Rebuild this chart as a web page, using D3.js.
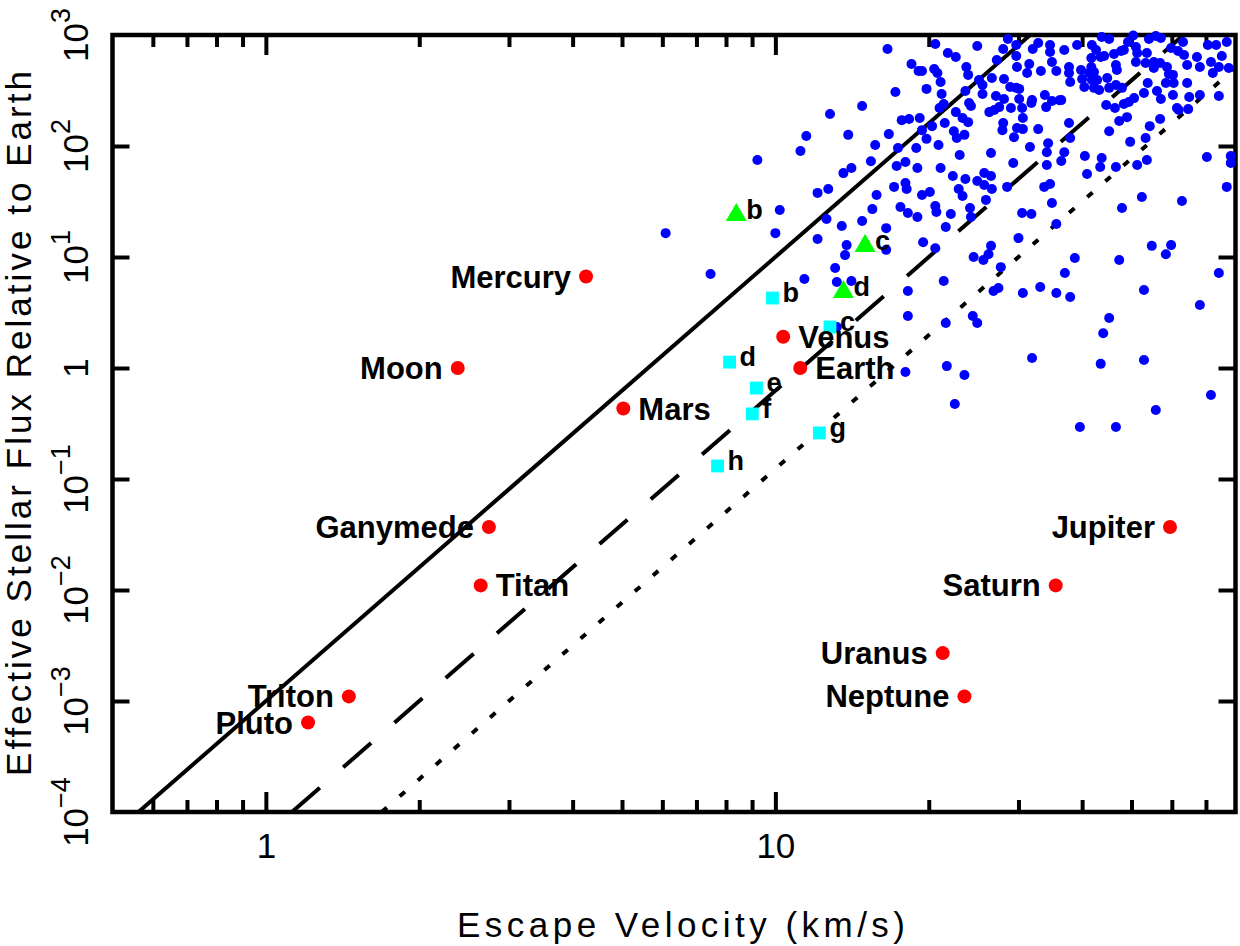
<!DOCTYPE html>
<html>
<head>
<meta charset="utf-8">
<script src="https://cdn.jsdelivr.net/npm/d3@7"></script>
<style>
  body { margin: 0; background: #fff; }
  svg text { font-family: "Liberation Sans", Arial, Helvetica, sans-serif; }
</style>
</head>
<body>
<div id="chart"></div>
<script>
// Escape velocity vs. stellar flux ("cosmic shoreline") scatter

// Solar system bodies
const planetNames = ["Mercury", "Venus", "Earth", "Moon", "Mars", "Jupiter", "Saturn", "Uranus",
                     "Neptune", "Pluto", "Triton", "Titan", "Ganymede"];
const planetVesc  = [4.25, 10.36, 11.19, 2.38, 5.03, 59.5, 35.5, 21.3, 23.5, 1.21, 1.455, 2.64, 2.74];
const planetFlux  = [6.67, 1.91, 1.0, 1.0, 0.431, 0.037, 0.011, 0.0027, 0.0011, 0.00064, 0.0011, 0.011, 0.037];
const planetSide  = ["left", "right", "right", "left", "right", "left", "left", "left",
                     "left", "left", "left", "right", "left"];

// Seven-planet system (cyan squares)
const sysALabels = ["b", "c", "d", "e", "f", "g", "h"];
const sysAVesc   = [9.87, 12.8, 8.13, 9.18, 9.01, 12.2, 7.70];
const sysAFlux   = [4.27, 2.34, 1.13, 0.66, 0.386, 0.26, 0.131];

// Three-planet system (green triangles)
const sysBLabels = ["b", "c", "d"];
const sysBVesc   = [8.38, 15.0, 13.6];
const sysBFlux   = [23.9, 12.6, 4.84];

// Known exoplanets (blue dots): [escape velocity km/s, flux relative to Earth]
const exoplanets = [
  [16.6,748],[14.8,229],[12.8,194],[11.5,123],[13.9,126],[16.7,128],[15.7,102],[11.2,90],[9.22,74.8],[15.4,73],
  [14.1,63.4],[13.6,57],[12.7,41],[12.1,37.8],[15.8,36.2],[15.5,27],[10.2,26.5],[12.6,22],[14.8,21.1],[13.5,19],
  [16.5,18.2],[10.0,16.4],[6.09,16.4],[12.1,14.5],[13.8,12.8],[16.5,11.6],[13.7,10.4],[13.1,7.96],[7.46,7.03],[11.4,6.34],
  [13.2,5.96],[14.1,6.08],[19.5,13.6],[18.2,4.94],[18.2,2.94],[18.0,0.92],[13.2,2.34],
  [20.6,830],[24.9,796],[28.6,920],[28.0,748],[29.7,813],[29.7,647],[32.0,748],[32.8,847],[34.6,813],[34.6,703],
  [21.8,688],[22.6,634],[18.5,548],[19.1,474],[19.4,474],[20.5,494],[20.8,455],[21.1,377],[23.7,515],[23.9,437],
  [25.1,393],[26.6,410],[27.2,596],[28.1,402],[29.8,515],[31.5,548],[31.2,455],[33.2,474],[34.9,571],[35.6,474],
  [17.2,306],[19.8,327],[21.2,294],[23.6,313],[25.5,355],[25.5,294],[28.9,340],[29.7,334],[30.1,327],[27.1,282],
  [28.1,265],[30.1,265],[31.9,259],[31.8,244],[33.8,288],[34.9,254],[21.0,220],[21.4,239],[22.6,202],[24.0,244],
  [24.2,229],[26.3,202],[26.9,211],[27.5,224],[29.0,220],[30.5,220],[30.6,179],[34.0,224],[17.7,171],[18.3,175],
  [19.2,179],[20.3,151],[21.5,161],[23.3,179],[23.9,164],[28.0,161],[27.9,139],[29.8,145],[30.6,142],[32.8,142],
  [19.4,139],[19.8,116],[22.4,136],[22.7,118],[23.5,126],[29.4,120],[17.4,96],[18.9,96],[20.9,102],[23.0,83],
  [26.5,86.5],[31.6,98],[34.3,106],[34.1,88],[17.3,66],[18.0,71.8],[19.0,63.4],[21.1,63.4],[29.3,70.3],[34.1,67.5],
  [22.3,53.7],[23.6,50.5],[25.7,57.1],[26.5,53.7],[24.9,48.4],[25.7,44.6],[26.6,41.0],[28.5,42.8],[17.1,42.8],[18.0,46.5],
  [18.1,41.0],[22.9,41.0],[23.3,35.5],[19.4,36.2],[20.1,38.5],[25.9,32.7],[33.7,42.8],[34.6,45.5],[17.6,28.2],[18.2,24.9],
  [19.0,22.9],[20.6,28.8],[20.7,25.4],[22.1,24.4],[24.1,27.6],[24.2,22.9],[30.5,24.9],[31.8,24.4],[34.9,30.6],[35.6,19.8],
  [21.6,18.6],[36.1,258],
  [43.7,959],[45.2,920],[50.4,990],[49.2,865],[54.1,920],[55.8,980],[57.1,940],[63.1,865],[36.9,733],[39.1,813],
  [41.8,813],[42.6,733],[41.7,621],[43.5,634],[44.2,647],[46.2,674],[47.7,717],[48.3,733],[51.0,780],[51.3,688],
  [53.6,688],[51.0,571],[53.3,560],[55.3,571],[56.9,560],[59.8,764],[61.7,717],[63.4,661],[67.2,634],[70.6,813],
  [73.3,813],[71.6,571],[75.2,647],[76.9,865],[37.7,515],[37.7,455],[39.8,484],[41.7,515],[41.3,455],[42.2,464],
  [46.6,537],[46.8,484],[55.3,505],[58.7,515],[59.2,446],[60.3,437],[64.3,537],[68.1,515],[72.2,455],[74.2,515],
  [77.6,505],[37.9,377],[40.0,402],[40.4,340],[41.8,393],[42.8,393],[44.8,410],[42.2,334],[43.2,320],[45.2,334],
  [46.6,355],[47.9,334],[53.8,370],[52.9,300],[56.1,313],[58.4,370],[60.5,370],[60.3,288],[64.3,370],[64.9,276],
  [68.1,288],[74.2,282],[36.4,259],[44.6,234],[46.4,220],[48.3,239],[49.4,249],[50.6,270],[57.1,265],[61.4,220],
  [61.9,211],[64.6,215],[37.7,161],[47.3,168],[49.0,182],[54.3,151],[56.9,175],[37.9,118],[45.2,136],[49.7,109],
  [53.3,118],[36.9,88],[36.4,73.3],[40.5,81.3],[43.7,78.0],[43.4,64.7],[46.6,64.7],[51.3,67.5],[53.6,74.8],[70.3,79.6],
  [78.3,81.3],[78.3,70.3],[40.9,56.0],[76.9,42.8],[52.4,34.7],[62.8,32.0],[47.9,27.6],
  [20.6,12.0],[30.0,14.8],[26.5,12.6],[26.2,10.6],[24.5,10.0],[25.6,9.4],[27.7,8.1],[38.7,9.8],[37.0,7.18],[47.3,9.4],
  [54.8,12.6],[59.8,12.8],[58.4,10.6],[74.2,7.18],[21.4,6.08],[26.8,4.94],[27.4,5.26],[30.6,4.74],[33.1,5.37],[35.6,4.74],
  [37.9,4.36],[52.9,5.05],[68.1,3.70],[24.4,2.94],[24.9,2.54],[21.6,2.54],[45.2,2.82],[44.0,2.06],[31.9,1.23],[21.7,1.04],
  [23.5,0.865],[43.5,1.09],[52.9,1.18],[22.5,0.474],[71.6,0.571],[55.8,0.419],[39.6,0.294],[46.6,0.294]
];

// Shoreline lines: end points where they meet the frame
const solidVesc  = [0.5623, 31.62];
const solidFlux  = [1e-4, 1000];
const dashedVesc = [1.125, 63.25];
const dashedFlux = [1e-4, 1000];
const dottedVesc = [1.687, 80];
const dottedFlux = [1e-4, 506];

// Axis ticks
const majorX = [1, 10];
const minorX = [0.6, 0.7, 0.8, 0.9, 2, 3, 4, 5, 6, 7, 8, 9, 20, 30, 40, 50, 60, 70];
const majorY = [1e-4, 1e-3, 1e-2, 1e-1, 1, 1e1, 1e2, 1e3];

const width = 1240;
const height = 946;
const plot = { left: 112.5, right: 1235.5, top: 35, bottom: 812 };

const svg = d3.select("#chart")
    .append("svg")
    .attr("width", width)
    .attr("height", height)
    .style("display", "block");

const x = d3.scaleLog().domain([0.5, 80]).range([plot.left, plot.right]);
const y = d3.scaleLog().domain([1e-4, 1e3]).range([plot.bottom, plot.top]);

svg.append("clipPath").attr("id", "plot-clip")
    .append("rect")
    .attr("x", plot.left).attr("y", plot.top)
    .attr("width", plot.right - plot.left).attr("height", plot.bottom - plot.top);

// Lines
const line = d3.line().x(d => x(d[0])).y(d => y(d[1]));
const lines = [
    { vesc: solidVesc, flux: solidFlux, dash: null },
    { vesc: dashedVesc, flux: dashedFlux, dash: "37,31" },
    { vesc: dottedVesc, flux: dottedFlux, dash: "7,17" }
];
svg.append("g")
    .attr("clip-path", "url(#plot-clip)")
    .selectAll("path")
    .data(lines)
    .join("path")
    .attr("d", d => line(d.vesc.map((v, i) => [v, d.flux[i]])))
    .attr("fill", "none")
    .attr("stroke", "#000")
    .attr("stroke-width", 4)
    .attr("stroke-dasharray", d => d.dash);

// Frame and ticks
function tickStyle(g) {
    g.select(".domain").remove();
    g.selectAll(".tick line").attr("stroke", "#000").attr("stroke-width", 4);
}

svg.append("g")
    .attr("transform", `translate(0,${plot.bottom})`)
    .call(d3.axisBottom(x).tickValues(majorX).tickSize(-20).tickPadding(21).tickFormat(d3.format("d")))
    .call(tickStyle)
    .attr("font-size", 35)
    .attr("font-family", null)
    .selectAll("text").attr("fill", "#000");

svg.append("g")
    .attr("transform", `translate(0,${plot.bottom})`)
    .call(d3.axisBottom(x).tickValues(minorX).tickSize(-12).tickFormat(""))
    .call(tickStyle);

svg.append("g")
    .attr("transform", `translate(0,${plot.top})`)
    .call(d3.axisTop(x).tickValues(majorX).tickSize(-20).tickFormat(""))
    .call(tickStyle);

svg.append("g")
    .attr("transform", `translate(0,${plot.top})`)
    .call(d3.axisTop(x).tickValues(minorX).tickSize(-12).tickFormat(""))
    .call(tickStyle);

svg.append("g")
    .attr("transform", `translate(${plot.left},0)`)
    .call(d3.axisLeft(y).tickValues(majorY.slice(1, -1)).tickSize(-17).tickFormat(""))
    .call(tickStyle);

svg.append("g")
    .attr("transform", `translate(${plot.right},0)`)
    .call(d3.axisRight(y).tickValues(majorY.slice(1, -1)).tickSize(-17).tickFormat(""))
    .call(tickStyle);

svg.append("rect")
    .attr("x", plot.left).attr("y", plot.top)
    .attr("width", plot.right - plot.left).attr("height", plot.bottom - plot.top)
    .attr("fill", "none")
    .attr("stroke", "#000")
    .attr("stroke-width", 4.5);

// Y tick labels, rotated, with superscript exponents
svg.append("g")
    .attr("font-size", 35)
    .selectAll("text")
    .data(majorY)
    .join("text")
    .attr("transform", d => `translate(88,${y(d)}) rotate(-90)`)
    .attr("text-anchor", "middle")
    .each(function (d) {
        const e = Math.round(Math.log10(d));
        const t = d3.select(this);
        if (e === 0) { t.text("1"); return; }
        t.append("tspan").text("10");
        t.append("tspan").attr("dy", -18).attr("font-size", 27)
            .text(e < 0 ? "\u2212" + (-e) : String(e));
    });

// Axis titles
svg.append("text")
    .attr("x", 681)
    .attr("y", 937)
    .attr("text-anchor", "middle")
    .attr("font-family", "DejaVu Sans, sans-serif")
    .attr("font-size", 35)
    .attr("textLength", 448)
    .attr("lengthAdjust", "spacing")
    .text("Escape Velocity (km/s)");

svg.append("text")
    .attr("transform", `translate(31,${(plot.top + plot.bottom) / 2}) rotate(-90)`)
    .attr("text-anchor", "middle")
    .attr("font-family", "DejaVu Sans, sans-serif")
    .attr("font-size", 35)
    .attr("textLength", 705)
    .attr("lengthAdjust", "spacing")
    .text("Effective Stellar Flux Relative to Earth");

// Exoplanets
svg.append("g")
    .selectAll("circle")
    .data(exoplanets)
    .join("circle")
    .attr("cx", d => x(d[0]))
    .attr("cy", d => y(d[1]))
    .attr("r", 5)
    .attr("fill", "#0000ff");

// Cyan squares
const sysA = sysALabels.map((l, i) => ({ label: l, v: sysAVesc[i], f: sysAFlux[i] }));
svg.append("g")
    .selectAll("path")
    .data(sysA)
    .join("path")
    .attr("transform", d => `translate(${x(d.v)},${y(d.f)})`)
    .attr("d", d3.symbol(d3.symbolSquare, 165))
    .attr("fill", "#00ffff");

// Green triangles
const sysB = sysBLabels.map((l, i) => ({ label: l, v: sysBVesc[i], f: sysBFlux[i] }));
svg.append("g")
    .selectAll("path")
    .data(sysB)
    .join("path")
    .attr("transform", d => `translate(${x(d.v)},${y(d.f)})`)
    .attr("d", d3.symbol(d3.symbolTriangle, 190))
    .attr("fill", "#00ff00");

svg.append("g")
    .attr("font-size", 27)
    .attr("font-weight", "bold")
    .selectAll("text")
    .data(sysA.concat(sysB))
    .join("text")
    .attr("x", d => x(d.v) + 10)
    .attr("y", d => y(d.f) + 4)
    .text(d => d.label);

// Solar system bodies
const planets = planetNames.map((n, i) => ({ name: n, v: planetVesc[i], f: planetFlux[i], side: planetSide[i] }));
svg.append("g")
    .selectAll("circle")
    .data(planets)
    .join("circle")
    .attr("cx", d => x(d.v))
    .attr("cy", d => y(d.f))
    .attr("r", 7)
    .attr("fill", "#ff0000");

svg.append("g")
    .attr("font-size", 31)
    .attr("font-weight", "bold")
    .selectAll("text")
    .data(planets)
    .join("text")
    .attr("x", d => x(d.v) + (d.side === "left" ? -15 : 15))
    .attr("y", d => y(d.f) + 11)
    .attr("text-anchor", d => d.side === "left" ? "end" : "start")
    .text(d => d.name);
</script>
</body>
</html>
